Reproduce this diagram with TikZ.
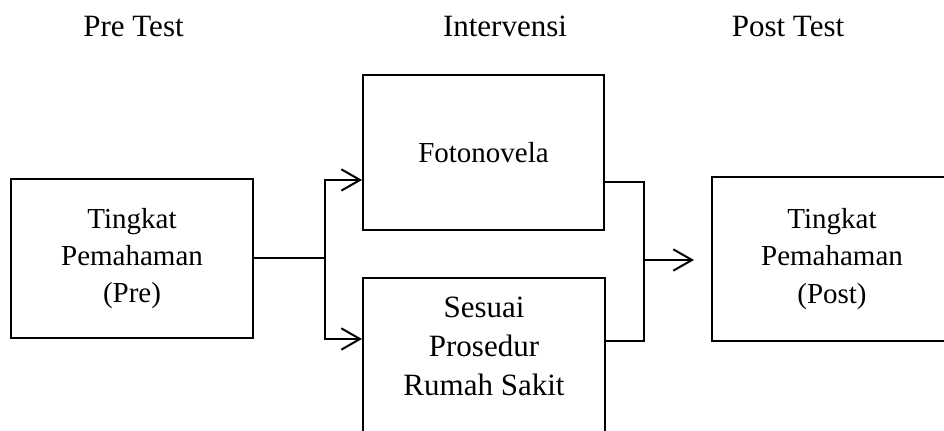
\documentclass[tikz,border=0pt]{standalone}
\usepackage{fontspec}
\setmainfont{Liberation Serif}
\usetikzlibrary{positioning}
\usetikzlibrary{arrows.meta}
\newcommand{\hurufbesar}{\fontsize{23.25pt}{29.25pt}\selectfont}
\newcommand{\hurufkotak}{\fontsize{21.75pt}{28.1pt}\selectfont}
\tikzset{
  kotak/.style={draw, line width=1.5pt, inner sep=0pt, align=center, font=\hurufkotak},
  judul/.style={inner sep=0pt, font=\hurufbesar},
  garis/.style={line width=1.5pt},
  panah/.style={garis, -{Straight Barb[length=14pt,width=16pt]}}
}

\begin{document}
\begin{tikzpicture}[x=0.75pt,y=0.75pt]
        \useasboundingbox (0,0) rectangle (944,431);
        \clip (0,0) rectangle (944,431);
        % judul
        \node[judul, anchor=base] (pretest) at (133.5,394) {Pre Test};
        \node[judul, anchor=base] (intervensi) at (505,394) {Intervensi};
        \node[judul, anchor=base] (posttest) at (788,394) {Post Test};
        % kotak
        \node[kotak, minimum width=181.5pt, minimum height=119.25pt] (pre) at (132,172.5) {Tingkat\\Pemahaman\\(Pre)};
        \node[kotak, minimum width=180.75pt, minimum height=116.25pt] (foto) at (483.5,278.5) {Fotonovela};
        \node[kotak, minimum width=181.5pt, minimum height=136.5pt] (rs) at (484,62) {};
        \node[judul, align=center, below=15pt of rs.north] (rsisi) {Sesuai\\Prosedur\\Rumah Sakit};
        \node[kotak, minimum width=180pt, minimum height=123pt] (post) at (832,172) {Tingkat\\Pemahaman\\(Post)};
        % cabang kiri
        \draw[garis] (pre.east) -- ++(71,0) coordinate (cabang);
        \draw[panah] (cabang) |- ([yshift=-20.6pt]foto.west);
        \draw[panah] (cabang) |- ([yshift=22.5pt]rs.west);
        % gabung kanan
        \coordinate (gabung) at (644,171);
        \draw[garis] ([yshift=-22.1pt]foto.east) -| (gabung) |- ([yshift=21pt]rs.east);
        \draw[panah, shorten >=12.75pt] (gabung) -- (post.west |- gabung);
\end{tikzpicture}
\end{document}
